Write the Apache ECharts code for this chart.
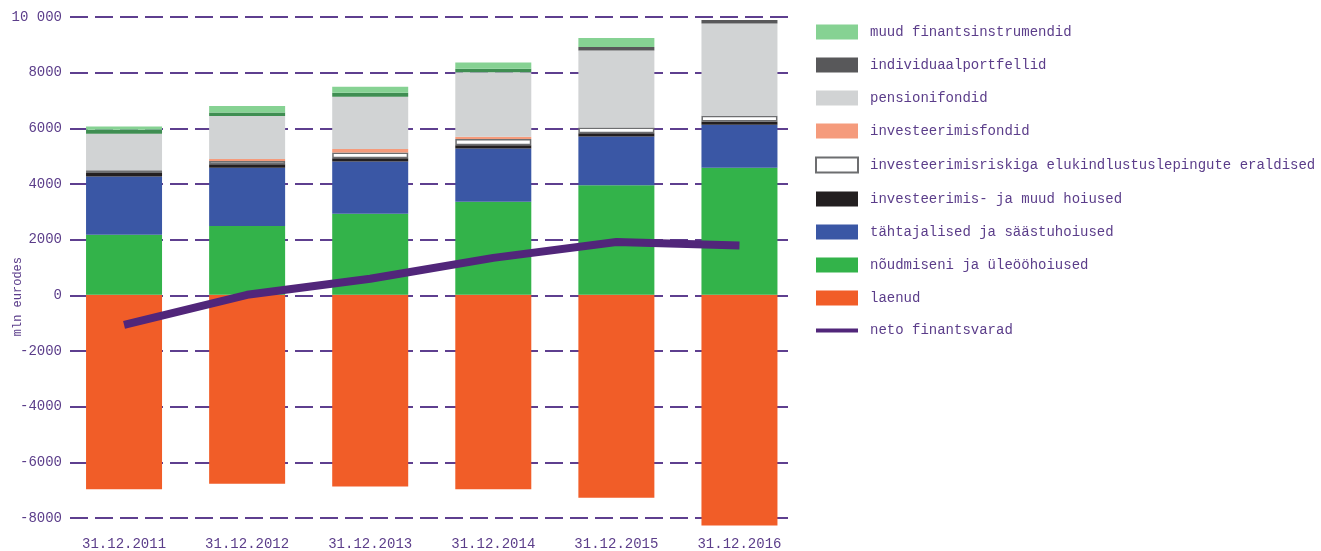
<!DOCTYPE html>
<html><head><meta charset="utf-8">
<script src="https://cdn.jsdelivr.net/npm/echarts@6/dist/echarts.min.js"></script>
<style>html,body{margin:0;padding:0;background:#fff}#c{width:1321px;height:551px}</style>
</head><body><div id="c"></div>
<script>
const categories = ['31.12.2011','31.12.2012','31.12.2013','31.12.2014','31.12.2015','31.12.2016'];
const laenud = [-7000, -6800, -6900, -7000, -7300, -8300];
const noudmiseni = [2160, 2480, 2920, 3350, 3940, 4570];
const tahtajalised = [2100, 2090, 1880, 1920, 1760, 1550];
const hoiused = [125, 130, 120, 110, 120, 120];
const elukindlustus = [95, 120, 200, 230, 200, 205];
const invfondid = [0, 70, 130, 80, 0, 0];
const pension = [1320, 1550, 1880, 2320, 2770, 3320];
const indiv = [140, 120, 140, 130, 130, 130];
const muud = [120, 240, 220, 220, 320, 0];
const neto = [-1080, 0, 580, 1330, 1900, 1780];
const yTicks = [-8000, -6000, -4000, -2000, 0, 2000, 4000, 6000, 8000, 10000];

const FONT = 'Liberation Mono';
const TXT = '#5b3d8a';
const chart = echarts.init(document.getElementById('c'));
const gTop = 17, gBottom = 551 - 518;
// second (bar) grid uses the same scale but reaches a little lower
const pxPerUnit = (518 - 17) / 18000;
const barMin = -8320;
const barBottom = 551 - (518 + (yTicks[0] - barMin) * pxPerUnit);
function bar(name, data, color, extra) {
  return Object.assign({
    name, type: 'bar', stack: 's', data, barWidth: 76,
    xAxisIndex: 1, yAxisIndex: 1,
    itemStyle: { color }, emphasis: { disabled: true }
  }, extra || {});
}
const indivData = indiv.map((v, i) => ({ value: v, itemStyle: { color: i < 4 ? '#3f8e52' : '#58585a' } }));
chart.setOption({
  animation: false,
  grid: [
    { left: 70, right: 531, top: gTop, bottom: gBottom },
    { left: 62.5, width: 738.5, top: gTop, bottom: barBottom }
  ],
  xAxis: [
    { gridIndex: 0, type: 'category', data: categories, show: false },
    { gridIndex: 1, type: 'category', data: categories,
      axisLine: { show: false }, axisTick: { show: false },
      axisLabel: { margin: 11, color: TXT, fontFamily: FONT, fontSize: 14 } }
  ],
  yAxis: [
    { gridIndex: 0, type: 'value', min: yTicks[0], max: yTicks[yTicks.length - 1], interval: 2000,
      axisLine: { show: false }, axisTick: { show: false },
      axisLabel: { margin: 8, color: TXT, fontFamily: FONT, fontSize: 14,
        formatter: v => v === 10000 ? '10 000' : String(v) },
      splitLine: { lineStyle: { color: '#5e3f8f', width: 2, type: [18, 7] } } },
    { gridIndex: 1, type: 'value', min: barMin, max: yTicks[yTicks.length - 1],
      show: false, splitLine: { show: false } }
  ],
  legend: {
    orient: 'vertical', left: 810, top: 19.5, itemWidth: 42, itemHeight: 15, itemGap: 18,
    icon: 'rect',
    textStyle: { color: TXT, fontFamily: FONT, fontSize: 14, padding: [0, 0, 0, 7] },
    selectedMode: false,
    data: [
      'muud finantsinstrumendid',
      { name: 'individuaalportfellid', itemStyle: { color: '#58585a' } },
      'pensionifondid',
      'investeerimisfondid',
      'investeerimisriskiga elukindlustuslepingute eraldised',
      'investeerimis- ja muud hoiused',
      'tähtajalised ja säästuhoiused',
      'nõudmiseni ja üleööhoiused',
      'laenud',
      { name: 'neto finantsvarad', icon: 'path://M0,0L42,0L42,4L0,4Z', itemStyle: { color: '#51267a' } }
    ]
  },
  graphic: [{
    type: 'text', left: 12, top: 257, rotation: Math.PI / 2,
    style: { text: 'mln eurodes', fill: TXT, font: '12px "Liberation Mono"' }
  }],
  series: [
    bar('laenud', laenud, '#f15d28'),
    bar('nõudmiseni ja üleööhoiused', noudmiseni, '#33b34a'),
    bar('tähtajalised ja säästuhoiused', tahtajalised, '#3a57a5'),
    bar('investeerimis- ja muud hoiused', hoiused, '#231f20'),
    bar('investeerimisriskiga elukindlustuslepingute eraldised', elukindlustus, '#ffffff',
      { itemStyle: { color: '#ffffff', borderColor: '#6d6e70', borderWidth: 1.5 } }),
    bar('investeerimisfondid', invfondid, '#f59b7c'),
    bar('pensionifondid', pension, '#d1d3d4'),
    bar('individuaalportfellid', indivData, '#58585a'),
    bar('muud finantsinstrumendid', muud, '#86d293'),
    { name: 'neto finantsvarad', type: 'line', data: neto, xAxisIndex: 1, yAxisIndex: 1,
      symbol: 'none', z: 5, lineStyle: { color: '#51267a', width: 8, cap: 'butt' },
      itemStyle: { color: '#51267a' }, emphasis: { disabled: true } }
  ]
});
</script></body></html>
